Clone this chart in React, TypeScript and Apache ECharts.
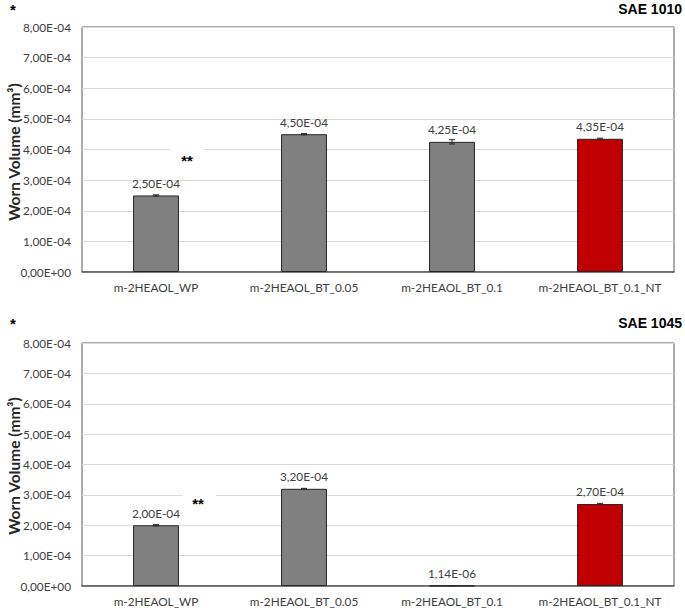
import React, { useEffect, useRef } from "react";
import * as echarts from "echarts";

const categories = ["m-2HEAOL_WP", "m-2HEAOL_BT_0.05", "m-2HEAOL_BT_0.1", "m-2HEAOL_BT_0.1_NT"];
const sae1010Values = [2.5e-4, 4.5e-4, 4.25e-4, 4.35e-4];
const sae1010Errors = [2e-6, 2e-6, 7e-6, 2e-6];
const sae1045Values = [2.0e-4, 3.2e-4, 1.14e-6, 2.7e-4];
const sae1045Errors = [2e-6, 1.5e-6, 0.5e-6, 2e-6];
const barColors = ["#808080", "#808080", "#808080", "#C00000"];
const panelTitles = ["SAE 1010", "SAE 1045"];
const yAxisTitle = "Worn Volume (mm³)";

const fmt = (v: number) => {
  const s = v.toExponential(2);
  const [m, e] = s.split("e");
  const sign = e[0] === "-" ? "-" : "+";
  const digits = e.replace(/[+-]/, "").padStart(2, "0");
  return m.replace(".", ",") + "E" + sign + digits;
};

const FONT = "Lato, 'Open Sans', sans-serif";
const FS = 11.8;

export default function App() {
  const ref = useRef<HTMLDivElement>(null);
  useEffect(() => {
    if (!ref.current) return;
    const chart = echarts.init(ref.current, null, { renderer: "svg" });
    const grids = [
      { left: 82, top: 27, width: 592, height: 245 },
      { left: 82, top: 343, width: 592, height: 243 },
    ];
    const datasets = [
      { values: sae1010Values, errors: sae1010Errors },
      { values: sae1045Values, errors: sae1045Errors },
    ];
    const series: any[] = [];
    datasets.forEach((d, i) => {
      series.push({
        type: "bar",
        xAxisIndex: i,
        yAxisIndex: i,
        barWidth: "31%",
        data: d.values.map((v, j) => ({
          value: v,
          itemStyle: { color: barColors[j], borderColor: "#262626", borderWidth: 1 },
        })),
        label: {
          show: true,
          position: "top",
          distance: 6,
          fontFamily: FONT,
          fontSize: FS,
          color: "#404040",
          formatter: (p: any) => fmt(p.value),
        },
        z: 2,
      });
      series.push({
        type: "custom",
        xAxisIndex: i,
        yAxisIndex: i,
        data: d.values.map((v, j) => [j, v - d.errors[j], v + d.errors[j]]),
        renderItem: (params: any, api: any) => {
          const x = api.value(0);
          const lo = api.coord([x, api.value(1)]);
          const hi = api.coord([x, api.value(2)]);
          const w = 3;
          const st = { stroke: "#262626", lineWidth: 1 };
          return {
            type: "group",
            children: [
              { type: "line", shape: { x1: lo[0], y1: lo[1], x2: hi[0], y2: hi[1] }, style: st },
              { type: "line", shape: { x1: lo[0] - w, y1: lo[1], x2: lo[0] + w, y2: lo[1] }, style: st },
              { type: "line", shape: { x1: hi[0] - w, y1: hi[1], x2: hi[0] + w, y2: hi[1] }, style: st },
            ],
          };
        },
        z: 3,
      });
    });

    const mkX = (i: number) => ({
      type: "category",
      gridIndex: i,
      data: categories,
      axisTick: { show: false },
      axisLine: { lineStyle: { color: "#595959", width: 1.5 } },
      axisLabel: { interval: 0, fontFamily: FONT, fontSize: FS, color: "#404040", margin: 9 },
    });
    const mkY = (i: number) => ({
      type: "value",
      gridIndex: i,
      min: 0,
      max: 8e-4,
      interval: 1e-4,
      axisLine: { show: false },
      axisTick: { show: false },
      splitLine: { lineStyle: { color: "#d9d9d9", width: 1 } },
      axisLabel: { fontFamily: FONT, fontSize: FS, color: "#404040", margin: 11, formatter: (v: number) => fmt(v) },
    });

    const titleFont = "bold 15.5px Lato, 'Open Sans', sans-serif";

    chart.setOption({
      animation: false,
      backgroundColor: "#ffffff",
      grid: grids.map((g) => ({
        ...g,
        show: true,
        borderColor: "#595959",
        borderWidth: 1,
        backgroundColor: "transparent",
        containLabel: false,
        outerBoundsMode: "none",
      })),
      xAxis: [mkX(0), mkX(1)],
      yAxis: [mkY(0), mkY(1)],
      series,
      graphic: [
        { type: "text", x: 14, y: 152, rotation: Math.PI / 2, style: { text: yAxisTitle, font: titleFont, fill: "#262626", align: "center", verticalAlign: "middle" } },
        { type: "text", x: 14, y: 466, rotation: Math.PI / 2, style: { text: yAxisTitle, font: titleFont, fill: "#262626", align: "center", verticalAlign: "middle" } },
        { type: "text", left: 10, top: 2, style: { text: "*", font: "bold 15px 'Liberation Sans', Arial", fill: "#000" } },
        { type: "text", right: 3, top: 2, style: { text: panelTitles[0], font: "bold 14px 'Liberation Sans', Arial", fill: "#000" } },
        { type: "text", left: 10, top: 316, style: { text: "*", font: "bold 15px 'Liberation Sans', Arial", fill: "#000" } },
        { type: "text", right: 3, top: 316, style: { text: panelTitles[1], font: "bold 14px 'Liberation Sans', Arial", fill: "#000" } },
        { type: "rect", shape: { x: 170, y: 146, width: 34, height: 22 }, style: { fill: "#fff" }, z: 10 },
        { type: "text", x: 187, y: 160, style: { text: "**", font: "bold 15px 'Liberation Sans', Arial", fill: "#000", align: "center", verticalAlign: "middle" }, z: 11 },
        { type: "rect", shape: { x: 182, y: 491, width: 34, height: 22 }, style: { fill: "#fff" }, z: 10 },
        { type: "text", x: 198, y: 503, style: { text: "**", font: "bold 15px 'Liberation Sans', Arial", fill: "#000", align: "center", verticalAlign: "middle" }, z: 11 },
      ],
    });
    return () => chart.dispose();
  }, []);
  return <div ref={ref} style={{ position: "fixed", left: 0, top: 0, width: 685, height: 610 }} />;
}
